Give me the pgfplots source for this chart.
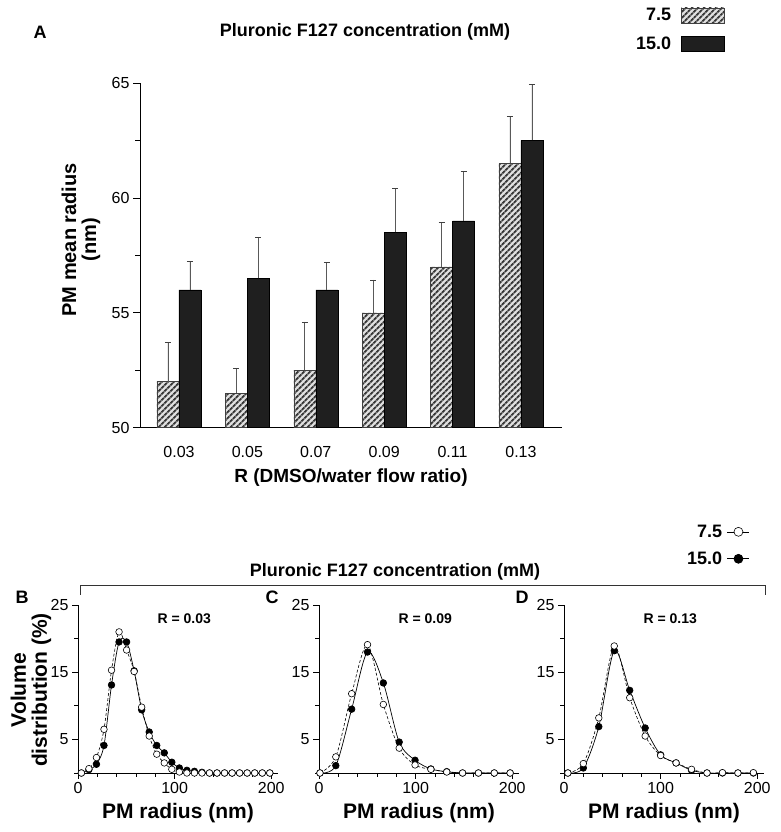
\documentclass[border=0pt]{standalone}
\usepackage{fontspec}
\setmainfont{Liberation Sans}
\usepackage{pgfplots}
\pgfplotsset{compat=1.18}
\usepackage{pgfplotstable}
\usetikzlibrary{patterns.meta}
\newcommand{\fs}[1]{\fontsize{#1}{#1}\selectfont}

\pgfplotstableread{
i a ea b eb
0 52.0 1.70 56.0 1.25
1 51.5 1.07 56.5 1.80
2 52.5 2.10 56.0 1.20
3 55.0 1.43 58.5 1.90
4 57.0 1.95 59.0 2.15
5 61.5 2.05 62.5 2.45
}\dataA

\pgfplotsset{
  hatchbar/.style={draw=black!75, line width=0.5pt, fill=black!12,
    postaction={pattern={Lines[angle=45,distance=4pt,line width=2pt]}, pattern color=black!78}},
  solidbar/.style={draw=black, line width=0.5pt, fill=black!88},
  errstyle/.style={error bars/.cd, y dir=plus, y explicit,
    error bar style={black!65, line width=0.8pt},
    error mark options={rotate=90, mark size=3pt, black!75, line width=0.8pt}},
  dist/.style={scale only axis, width=200pt, height=168pt,
    xmin=0, xmax=207, ymin=0, ymax=25,
    axis x line*=bottom, axis y line*=left, axis line style={-, line width=0.6pt},
    tick align=outside, major tick length=6pt, minor tick length=4pt,
    tick style={black, line width=0.6pt},
    xtick={0,100,200}, minor xtick={20,40,60,80,120,140,160,180},
    ytick={5,15,25}, minor ytick={0,10,20},
    tick label style={font=\fs{16}},
    /pgf/number format/assume math mode=true,
    xlabel={PM radius (nm)},
    xlabel style={font=\bfseries\fs{21}, at={(axis description cs:0.5,-0.24)}, anchor=center},
    clip=false},
  open/.style={black, densely dashed, line width=0.6pt, smooth, mark=*, mark size=3.3pt,
    mark options={solid, fill=white, draw=black, line width=0.6pt}},
  full/.style={black, solid, line width=0.7pt, smooth, mark=*, mark size=3.3pt,
    mark options={solid, fill=black}},
}

\begin{document}
\begin{tikzpicture}
\useasboundingbox (0pt,0pt) rectangle (780pt,832pt);

% ---------------- Panel A ----------------
\node[font=\bfseries\fs{18}] at (40pt,800pt) {A};
\node[font=\bfseries\fs{18}] at (365pt,800pt) {Pluronic F127 concentration (mM)};

\begin{axis}[at={(140pt,404.3pt)}, anchor=south west, scale only axis,
  width=422pt, height=344.7pt,
  xmin=-0.57, xmax=5.6, ymin=50, ymax=65,
  axis x line*=bottom, axis y line*=left, axis line style={-, line width=0.7pt},
  ybar=0pt, bar width=22pt,
  xtick={0,...,5}, xticklabels={0.03,0.05,0.07,0.09,0.11,0.13},
  xtick style={draw=none}, xticklabel shift=8pt,
  ytick={50,55,60,65}, minor ytick={52.5,57.5,62.5},
  ytick style={black, line width=0.6pt},
  tick align=outside, major tick length=7pt, minor tick length=5pt,
  tick label style={font=\fs{16}},
  /pgf/number format/assume math mode=true,
  xlabel={R (DMSO/water flow ratio)},
  xlabel style={font=\bfseries\fs{19}, at={(axis description cs:0.5,-0.146)}, anchor=center},
  ylabel={PM mean radius\\(nm)},
  ylabel style={font=\bfseries\fs{20}, align=center, at={(axis description cs:-0.14,0.545)}, anchor=center},
  legend style={at={(axis description cs:1.386,1.223)}, anchor=north east, draw=none, fill=none,
    font=\bfseries\fs{18}, row sep=11pt, column sep=8pt, inner sep=0pt},
  legend cell align=right, legend plot pos=right,
  legend image code/.code={\draw[#1] (0pt,-7.5pt) rectangle (43pt,7.5pt);},
  clip=false]
\addplot[hatchbar, bar shift=-11pt, errstyle] table[x=i, y=a, y error=ea]{\dataA};
\addlegendentry{7.5}
\addplot[solidbar, bar shift=11pt, errstyle] table[x=i, y=b, y error=eb]{\dataA};
\addlegendentry{15.0}
\end{axis}

% ---------------- Panels B-D ----------------
\node[font=\bfseries\fs{18}] at (395pt,260pt) {Pluronic F127 concentration (mM)};
\draw[black!80, line width=0.7pt] (80pt,237pt) -- (80pt,247pt) -- (765pt,247pt) -- (765pt,237pt);
\node[font=\bfseries\fs{18}] at (22pt,235pt) {B};
\node[font=\bfseries\fs{18}] at (272pt,235pt) {C};
\node[font=\bfseries\fs{18}] at (522pt,235pt) {D};

% Panel B
\begin{axis}[dist, at={(78pt,59pt)}, anchor=south west,
  ylabel={Volume\\distribution (\%)},
  ylabel style={font=\bfseries\fs{21}, align=center, at={(axis description cs:-0.235,0.494)}, anchor=center}]
\addplot[full] coordinates {(3.5,0) (11.3,0.5) (19.1,1.3) (26.9,4.1) (34.7,13.1) (42.5,19.5) (50.3,19.5) (58.1,15.2) (65.9,9.4) (73.7,6.1) (81.5,4.1) (89.3,3.0) (97.1,1.6) (104.9,0.75) (112.7,0.4) (120.5,0.25) (128.3,0.1) (136.1,0) (143.9,0) (151.7,0) (159.5,0) (167.3,0) (175.1,0) (182.9,0) (190.7,0) (198.5,0)};
\addplot[open] coordinates {(3.5,0) (11.3,0.65) (19.1,2.3) (26.9,6.5) (34.7,15.3) (42.5,21.0) (50.3,18.3) (58.1,15.1) (65.9,9.8) (73.7,5.5) (81.5,2.8) (89.3,1.5) (97.1,0.55) (104.9,0.15) (112.7,0) (120.5,0) (128.3,0) (136.1,0) (143.9,0) (151.7,0) (159.5,0) (167.3,0) (175.1,0) (182.9,0) (190.7,0) (198.5,0)};
\node[font=\bfseries\fs{14}] at (axis cs:110,23) {R = 0.03};
\end{axis}

% Panel C
\begin{axis}[dist, at={(319pt,59pt)}, anchor=south west]
\addplot[full] coordinates {(1,0) (17.4,1.1) (33.8,9.5) (50.2,18.0) (66.6,13.4) (83,4.6) (99.4,1.9) (115.8,0.6) (132.2,0.2) (148.6,0) (165,0) (181.4,0) (197.8,0)};
\addplot[open] coordinates {(1,0) (17.4,2.4) (33.8,11.8) (50.2,19.1) (66.6,10.2) (83,3.7) (99.4,1.2) (115.8,0.55) (132.2,0.15) (148.6,0) (165,0) (181.4,0) (197.8,0)};
\node[font=\bfseries\fs{14}] at (axis cs:110,23) {R = 0.09};
\end{axis}

% Panel D
\begin{axis}[dist, at={(564pt,59pt)}, anchor=south west,
  legend style={at={(axis description cs:0.93,1.49)}, anchor=north east, draw=none, fill=none,
    font=\bfseries\fs{18}, row sep=9pt, column sep=3pt, inner sep=0pt},
  legend cell align=right, legend plot pos=right, reverse legend,
  legend image code/.code={\draw[mark repeat=2,mark phase=2,#1,solid,mark size=4.5pt] plot coordinates {(0pt,0pt) (11pt,0pt) (22pt,0pt)};}]
\addplot[full] coordinates {(4,0) (20,0.75) (36,6.9) (52,18.2) (68,12.3) (84,6.7) (100,2.7) (116,1.5) (132,0.4) (148,0) (164,0) (180,0) (196,0)};
\addlegendentry{15.0}
\addplot[open] coordinates {(4,0) (20,1.4) (36,8.2) (52,18.9) (68,11.2) (84,5.5) (100,2.6) (116,1.5) (132,0.55) (148,0) (164,0.05) (180,0) (196,0.05)};
\addlegendentry{7.5}
\node[font=\bfseries\fs{14}] at (axis cs:110,23) {R = 0.13};
\end{axis}
\end{tikzpicture}
\end{document}
